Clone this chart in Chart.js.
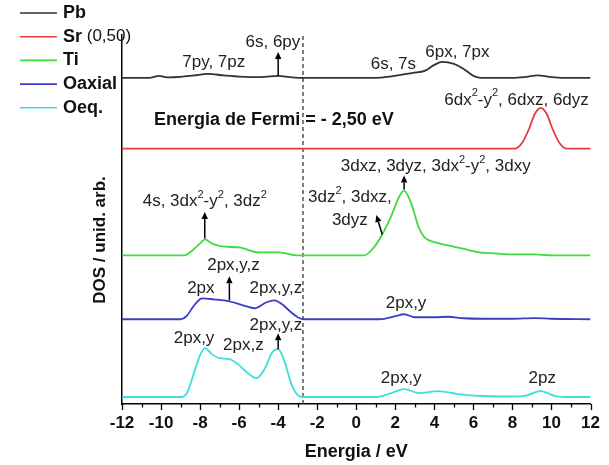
<!DOCTYPE html>
<html>
<head>
<meta charset="utf-8">
<script src="https://cdn.jsdelivr.net/npm/chart.js@4"></script>
<style>
  html, body { margin: 0; padding: 0; background: #fff; }
</style>
</head>
<body>
<canvas id="dos" width="609" height="465"></canvas>
<script>
// Energy grids (eV) and DOS values (arb. units)
const pbEnergy = [-12, -10.6, -10.1, -9.7, -9.0, -8.3, -7.6, -6.8, -6.0, -5.4, -4.7, -4.0, -3.4, -2.8, 1.0, 1.8, 2.9, 3.5, 4.0, 4.4, 5.0, 5.5, 6.0, 6.4, 8.0, 8.7, 9.3, 9.9, 10.6, 12];
const pbDos    = [0, 0, 0.2, 0.05, 0.1, 0.25, 0.4, 0.25, 0.12, 0.08, 0.1, 0.2, 0.08, 0, 0, 0.15, 0.5, 0.7, 1.3, 1.6, 1.4, 0.9, 0.2, 0, 0, 0.1, 0.25, 0.1, 0, 0];

const srEnergy = [-12, 8.1, 8.5, 8.85, 9.15, 9.45, 9.75, 10.05, 10.4, 10.8, 12];
const srDos    = [0, 0, 0.6, 2.0, 3.5, 4.1, 3.5, 2.0, 0.6, 0, 0];

const tiEnergy = [-12, -8.8, -8.4, -8.0, -7.75, -7.4, -6.9, -6.0, -5.0, -4.0, -3.0, 0.4, 0.9, 1.3, 1.8, 2.2, 2.45, 2.8, 3.2, 3.5, 4.05, 4.7, 5.4, 6.3, 7.1, 8.0, 9.1, 10.0, 12];
const tiDos    = [0, 0, 0.5, 1.2, 1.6, 1.2, 0.9, 0.8, 0.3, 0.3, 0, 0, 0.8, 2.0, 4.0, 5.9, 6.5, 5.3, 2.8, 1.8, 1.3, 1.0, 0.7, 0.3, 0.2, 0.1, 0.1, 0, 0];

const oaxEnergy = [-12, -9.0, -8.7, -8.3, -7.9, -7.3, -6.5, -5.8, -5.2, -4.6, -4.2, -3.8, -3.4, -3.0, -2.7, 1.2, 2.0, 2.45, 3.0, 4.0, 4.7, 5.5, 6.5, 8.0, 9.1, 10.0, 12];
const oaxDos    = [0, 0, 0.3, 1.4, 2.1, 2.0, 1.8, 1.4, 1.1, 1.7, 1.9, 1.5, 0.8, 0.2, 0, 0, 0.3, 0.5, 0.2, 0.2, 0.25, 0.1, 0.05, 0.05, 0.12, 0.05, 0];

const oeqEnergy = [-12, -9.0, -8.7, -8.3, -8.0, -7.75, -7.4, -7.0, -6.5, -6.0, -5.5, -5.1, -4.7, -4.3, -4.0, -3.7, -3.3, -3.0, -2.7, 1.0, 1.8, 2.45, 3.2, 4.2, 5.2, 6.5, 8.0, 8.7, 9.45, 10.2, 11.0, 12];
const oeqDos    = [0, 0, 0.3, 2.5, 4.2, 4.9, 4.3, 3.9, 3.8, 3.2, 2.3, 1.9, 2.8, 4.5, 4.8, 3.7, 1.2, 0.2, 0, 0, 0.4, 0.8, 0.4, 0.6, 0.3, 0.1, 0.05, 0.15, 0.6, 0.1, 0, 0];

// vertical offsets of each curve (stacked plot)
const pbOffset = 32.7;
const srOffset = 25.6;
const tiOffset = 14.9;
const oaxOffset = 8.5;
const oeqOffset = 0.7;

const fermiEnergy = -2.73;
const xTicks = [-12, -10, -8, -6, -4, -2, 0, 2, 4, 6, 8, 10, 12];
const seriesNames = ['Pb', 'Sr', 'Ti', 'Oaxial', 'Oeq.'];
const seriesColors = ['#333333', '#e23c3c', '#3ddc3d', '#3c3cc8', '#3cdede'];

const FONT = "'Liberation Sans', Arial, sans-serif";

function toPoints(energy, dos, offset) {
    return energy.map((e, i) => ({ x: e, y: offset + dos[i] }));
}

// annotations (data coordinates), ^2 means superscript 2
const notes = [
    { t: '7py, 7pz', x: -7.3, y: 34.3 },
    { t: '6s, 6py', x: -4.27, y: 36.3 },
    { t: '6s, 7s', x: 1.9, y: 34.1 },
    { t: '6px, 7px', x: 5.18, y: 35.3 },
    { t: '6dx^2-y^2, 6dxz, 6dyz', x: 8.21, y: 30.5 },
    { t: '3dxz, 3dyz, 3dx^2-y^2, 3dxy', x: 4.07, y: 23.8 },
    { t: '3dz^2, 3dxz,', x: -0.33, y: 20.7 },
    { t: '3dyz', x: -0.33, y: 18.4 },
    { t: '4s, 3dx^2-y^2, 3dz^2', x: -7.76, y: 20.3 },
    { t: '2px,y,z', x: -6.29, y: 13.9 },
    { t: '2px', x: -7.96, y: 11.6 },
    { t: '2px,y,z', x: -4.12, y: 11.6 },
    { t: '2px,y', x: 2.55, y: 10.1 },
    { t: '2px,y,z', x: -4.12, y: 7.9 },
    { t: '2px,y', x: -8.31, y: 6.6 },
    { t: '2px,z', x: -5.78, y: 5.9 },
    { t: '2px,y', x: 2.3, y: 2.6 },
    { t: '2pz', x: 9.53, y: 2.6 }
];

const arrows = [
    { x0: -4.0, y0: 32.9, x1: -4.0, y1: 35.3 },
    { x0: -7.76, y0: 16.6, x1: -7.76, y1: 19.25 },
    { x0: 2.45, y0: 21.5, x1: 2.45, y1: 22.9 },
    { x0: 1.33, y0: 17.0, x1: 1.03, y1: 18.95 },
    { x0: -6.5, y0: 10.4, x1: -6.5, y1: 12.8 },
    { x0: -4.0, y0: 5.5, x1: -4.0, y1: 7.1 }
];

function drawRich(ctx, text, cx, cy, size) {
    const parts = text.split(/(\^2)/).filter(s => s.length);
    const normal = `${size}px ${FONT}`;
    const sup = `${Math.round(size * 0.62)}px ${FONT}`;
    let total = 0;
    parts.forEach(p => {
        ctx.font = p === '^2' ? sup : normal;
        total += ctx.measureText(p === '^2' ? '2' : p).width;
    });
    let px = cx - total / 2;
    ctx.textAlign = 'left';
    ctx.textBaseline = 'middle';
    parts.forEach(p => {
        if (p === '^2') {
            ctx.font = sup;
            ctx.fillText('2', px, cy - size * 0.38);
            px += ctx.measureText('2').width;
        } else {
            ctx.font = normal;
            ctx.fillText(p, px, cy);
            px += ctx.measureText(p).width;
        }
    });
}

const overlay = {
    id: 'overlay',
    afterDraw(chart) {
        const { ctx, scales: { x, y } } = chart;
        ctx.save();
        ctx.strokeStyle = '#000';
        ctx.fillStyle = '#000';

        // x tick marks (major every 2, minor every 1)
        ctx.lineWidth = 1.3;
        for (let e = -12; e <= 12; e++) {
            const px = Math.round(x.getPixelForValue(e)) + 0.5;
            const len = e % 2 === 0 ? 6 : 3.5;
            ctx.beginPath();
            ctx.moveTo(px, y.bottom);
            ctx.lineTo(px, y.bottom + len);
            ctx.stroke();
        }

        // y title
        ctx.save();
        ctx.translate(100, 240);
        ctx.rotate(-Math.PI / 2);
        ctx.font = `bold 17px ${FONT}`;
        ctx.textAlign = 'center';
        ctx.textBaseline = 'middle';
        ctx.fillStyle = '#111';
        ctx.fillText('DOS / unid. arb.', 0, 0);
        ctx.restore();

        // legend
        seriesNames.forEach((name, i) => {
            const ly = 13 + i * 23.7;
            ctx.strokeStyle = seriesColors[i];
            ctx.lineWidth = 1.6;
            ctx.beginPath();
            ctx.moveTo(20, ly);
            ctx.lineTo(57, ly);
            ctx.stroke();
            ctx.fillStyle = '#111';
            ctx.textAlign = 'left';
            ctx.textBaseline = 'middle';
            ctx.font = `bold 18px ${FONT}`;
            ctx.fillText(name, 63, ly);
            if (name === 'Sr') {
                const w = ctx.measureText(name).width;
                ctx.font = `17px ${FONT}`;
                ctx.fillText(' (0,50)', 63 + w, ly);
            }
        });

        // Fermi level text
        ctx.fillStyle = '#111';
        ctx.font = `bold 18px ${FONT}`;
        ctx.textAlign = 'center';
        ctx.textBaseline = 'middle';
        ctx.fillText('Energia de Fermi = - 2,50 eV', x.getPixelForValue(-4.22), y.getPixelForValue(28.5));

        // annotations
        ctx.fillStyle = '#222';
        notes.forEach(n => drawRich(ctx, n.t, x.getPixelForValue(n.x), y.getPixelForValue(n.y), 17));

        // arrows
        ctx.strokeStyle = '#000';
        ctx.fillStyle = '#000';
        ctx.lineWidth = 1.5;
        arrows.forEach(a => {
            const x0 = x.getPixelForValue(a.x0), y0 = y.getPixelForValue(a.y0);
            const x1 = x.getPixelForValue(a.x1), y1 = y.getPixelForValue(a.y1);
            const ang = Math.atan2(y1 - y0, x1 - x0);
            const hl = 7, hw = 3.2;
            const bx = x1 - hl * Math.cos(ang), by = y1 - hl * Math.sin(ang);
            ctx.beginPath();
            ctx.moveTo(x0, y0);
            ctx.lineTo(bx, by);
            ctx.stroke();
            ctx.beginPath();
            ctx.moveTo(x1, y1);
            ctx.lineTo(bx + hw * Math.sin(ang), by - hw * Math.cos(ang));
            ctx.lineTo(bx - hw * Math.sin(ang), by + hw * Math.cos(ang));
            ctx.closePath();
            ctx.fill();
        });
        ctx.restore();
    }
};

function curve(label, energy, dos, offset, color) {
    return {
        label: label,
        data: toPoints(energy, dos, offset),
        borderColor: color,
        borderWidth: 1.8,
        pointRadius: 0,
        cubicInterpolationMode: 'monotone',
        fill: false
    };
}

const ctx = document.getElementById('dos').getContext('2d');
new Chart(ctx, {
    type: 'line',
    data: {
        datasets: [
            curve('Pb', pbEnergy, pbDos, pbOffset, seriesColors[0]),
            curve('Sr (0,50)', srEnergy, srDos, srOffset, seriesColors[1]),
            curve('Ti', tiEnergy, tiDos, tiOffset, seriesColors[2]),
            curve('Oaxial', oaxEnergy, oaxDos, oaxOffset, seriesColors[3]),
            curve('Oeq.', oeqEnergy, oeqDos, oeqOffset, seriesColors[4]),
            {
                label: 'Fermi',
                data: [{ x: fermiEnergy, y: 0 }, { x: fermiEnergy, y: 37 }],
                borderColor: '#444',
                borderWidth: 1.4,
                borderDash: [4, 3],
                pointRadius: 0
            }
        ]
    },
    options: {
        responsive: false,
        animation: false,
        layout: { padding: { top: 35, right: 12, left: 0, bottom: 0 } },
        plugins: {
            legend: { display: false },
            tooltip: { enabled: false }
        },
        scales: {
            x: {
                type: 'linear',
                min: -12,
                max: 12,
                afterBuildTicks: scale => { scale.ticks = xTicks.map(v => ({ value: v })); },
                afterFit: scale => { scale.height = 61; },
                grid: { display: true, drawOnChartArea: false, drawTicks: false },
                border: { display: true, color: '#000', width: 1.5 },
                ticks: {
                    color: '#111',
                    padding: 9,
                    maxRotation: 0,
                    font: { family: FONT, size: 17, weight: 'bold' }
                },
                title: {
                    display: true,
                    text: 'Energia / eV',
                    color: '#111',
                    padding: { top: 0, bottom: 2 },
                    font: { family: FONT, size: 18, weight: 'bold' }
                }
            },
            y: {
                type: 'linear',
                min: 0,
                max: 37,
                afterFit: scale => { scale.width = 122; },
                grid: { display: true, drawOnChartArea: false, drawTicks: false },
                border: { display: true, color: '#000', width: 1.5 },
                ticks: { display: false }
            }
        }
    },
    plugins: [overlay]
});
</script>
</body>
</html>
